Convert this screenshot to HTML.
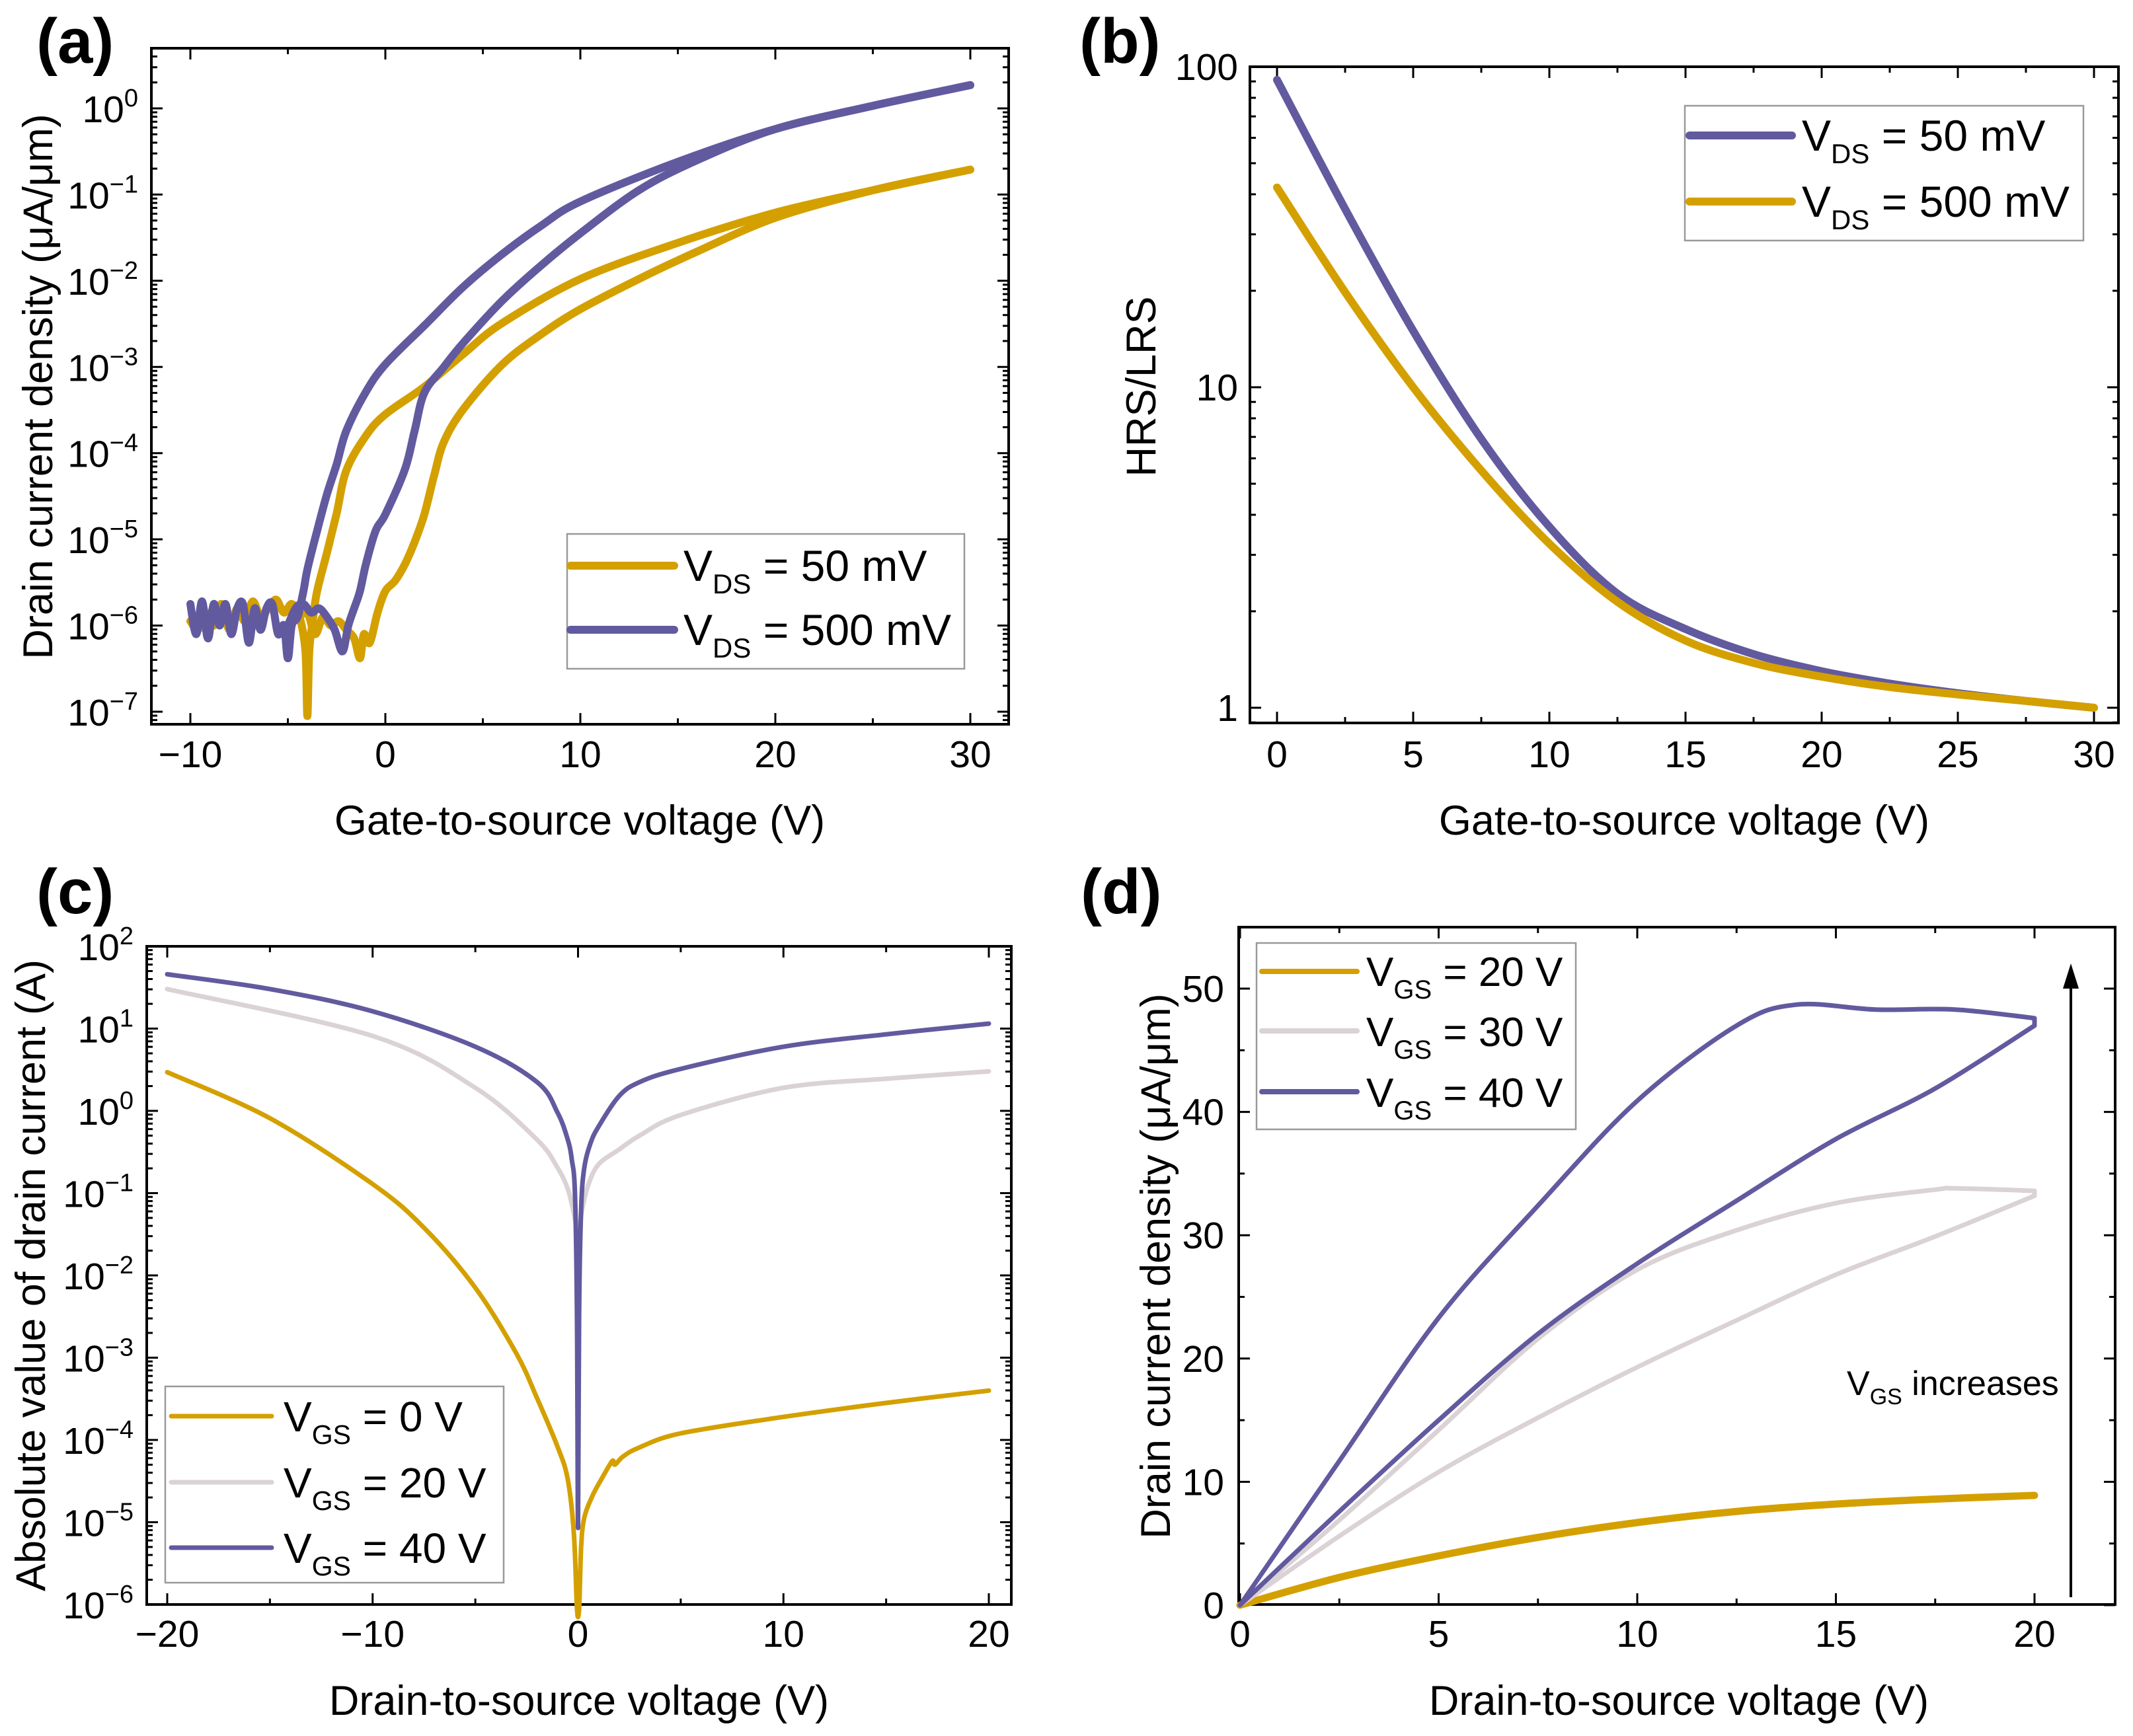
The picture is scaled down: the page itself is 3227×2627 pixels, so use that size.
<!DOCTYPE html>
<html><head><meta charset="utf-8">
<style>
html,body{margin:0;padding:0;background:#fff;}
svg{display:block;font-family:"Liberation Sans",Arial,sans-serif;}
</style></head>
<body>
<svg id="fig" width="3227" height="2627" viewBox="0 0 3227 2627" xmlns="http://www.w3.org/2000/svg"></svg>
<script>
// ---------- Panel (a) data: transfer curves, log10 of current density ----------
const aGold1X = [-10,-9.6,-9.2,-8.8,-8.4,-8,-7.6,-7.2,-6.8,-6.4,-6,-5.6,-5.2,-4.8,-4.4,-4.1,-4.0,-3.9,-3.7,-3.5,-3,-2.5,-2,-1,0,2,4,6,10,15,20,25,30];
const aGold1LogY = [-5.95,-6.05,-5.85,-6.0,-5.75,-6.05,-5.8,-5.95,-5.72,-5.9,-5.8,-5.7,-5.85,-5.75,-5.9,-6.3,-7.05,-6.3,-5.9,-5.6,-5.16,-4.7,-4.2,-3.8,-3.55,-3.23,-2.85,-2.49,-1.98,-1.56,-1.21,-0.95,-0.71];
const aGold2X = [-4.4,-4,-3.6,-3.2,-2.8,-2.4,-2,-1.6,-1.3,-1.1,-0.8,-0.4,0,0.5,1,1.5,2,2.5,3,4,6,8,10,13,16,20,25,30];
const aGold2LogY = [-5.9,-5.85,-6.1,-5.9,-6.0,-5.95,-6.05,-6.15,-6.38,-6.1,-6.2,-5.85,-5.6,-5.48,-5.29,-5.03,-4.71,-4.26,-3.87,-3.49,-2.97,-2.62,-2.33,-1.98,-1.66,-1.27,-0.95,-0.71];
const aPurp1X = [-10,-9.7,-9.4,-9.1,-8.8,-8.5,-8.2,-7.9,-7.6,-7.3,-7,-6.7,-6.4,-6.1,-5.8,-5.5,-5.2,-5.0,-4.8,-4.5,-4.2,-4,-3.5,-3,-2.5,-2,-1,0,2,4,6,8,10,15,20,25,30];
const aPurp1LogY = [-5.75,-6.1,-5.72,-6.15,-5.75,-6.0,-5.75,-6.1,-5.8,-5.75,-6.2,-5.8,-6.05,-5.8,-5.75,-6.1,-6.0,-6.38,-6.0,-5.9,-5.6,-5.35,-4.9,-4.48,-4.13,-3.74,-3.29,-2.97,-2.52,-2.07,-1.69,-1.36,-1.08,-0.62,-0.24,0.03,0.27];
const aPurp2X = [-5,-4.6,-4.2,-3.8,-3.4,-3,-2.6,-2.2,-1.9,-1.6,-1.3,-1,-0.5,0,1,1.5,2,3,4,6,8,10,13,16,20,25,30];
const aPurp2LogY = [-6.0,-5.8,-5.75,-5.85,-5.8,-5.9,-6.05,-6.3,-6.0,-5.8,-5.6,-5.29,-4.9,-4.71,-4.19,-3.74,-3.3,-3.0,-2.72,-2.23,-1.82,-1.45,-0.95,-0.6,-0.24,0.03,0.27];
const aXTicks = [-10,0,10,20,30];
const aYTicksExp = [-7,-6,-5,-4,-3,-2,-1,0];

// ---------- Panel (b) data ----------
const bX = [0,2.5,5,7.5,10,12.5,15,17.5,20,22.5,25,27.5,30];
const bPurple50 = [91,36,15,6.9,3.67,2.27,1.76,1.47,1.30,1.19,1.11,1.05,1.0];
const bGold500 = [42,19.8,10,5.5,3.25,2.14,1.62,1.38,1.25,1.16,1.10,1.05,1.0];
const bXTicks = [0,5,10,15,20,25,30];
const bYTicks = [1,10,100];

// ---------- Panel (c) data: log10 |I_D| ----------
const cPurpX = [-20,-15,-10,-5,-2,-1,-0.5,-0.3,-0.15,-0.05,0,0.05,0.15,0.3,0.6,1,2,3,5,10,15,20];
const cPurpLogY = [1.66,1.48,1.21,0.78,0.35,-0.02,-0.35,-0.6,-1.0,-2.5,-5.07,-2.5,-1.2,-0.7,-0.4,-0.19,0.18,0.35,0.51,0.78,0.93,1.06];
const cGrayX = [-20,-10,-5,-2,-1,-0.5,-0.2,0,0.2,0.5,1,2,3,5,10,15,20];
const cGrayLogY = [1.48,0.91,0.28,-0.35,-0.69,-0.95,-1.25,-1.49,-1.2,-0.9,-0.65,-0.47,-0.3,-0.05,0.28,0.39,0.48];
const cGoldX = [-20,-15,-10,-7.5,-5,-3,-2,-1,-0.5,-0.2,-0.05,0.05,0.15,0.3,0.7,1.2,1.5,1.7,1.8,2.2,3,5,10,15,20];
const cGoldLogY = [0.47,-0.09,-0.89,-1.42,-2.15,-2.95,-3.49,-4.08,-4.48,-5.15,-6.05,-6.05,-5.3,-4.95,-4.68,-4.45,-4.32,-4.25,-4.3,-4.2,-4.09,-3.92,-3.72,-3.55,-3.40];
const cXTicks = [-20,-10,0,10,20];
const cYTicksExp = [-6,-5,-4,-3,-2,-1,0,1,2];

// ---------- Panel (d) data: output loops ----------
const dPurpX = [0,2.5,5,7.5,10,12.5,14,16,18,20,20,17.5,15,12.5,10,7.5,5,2.5,0];
const dPurpY = [0,11.7,23.3,32.4,40.9,47,48.7,48.3,48.3,47.6,47,41.9,37.8,32.8,27.7,22,15,7.6,0];
const dGrayX = [0,2.5,5,7.5,10,12.5,15,17.5,18,20,20,17.5,15,12.5,10,7.5,5,2.5,0];
const dGrayY = [0,6.9,14.2,21.6,27.2,30.4,32.6,33.7,33.8,33.6,33.2,29.9,26.8,23.1,19.3,15.2,10.8,5.6,0];
const dGoldX = [0,2.5,5,7.5,10,12.5,15,17.5,20];
const dGoldY = [0,2.25,4.0,5.5,6.7,7.6,8.2,8.6,8.9];
const dXTicks = [0,5,10,15,20];
const dYTicks = [0,10,20,30,40,50];

const NS = "http://www.w3.org/2000/svg";
const svg = document.getElementById('fig');
const GOLD = "#D4A000", PURP = "#625A9F", GRAY = "#DAD2D5";

function mk(tag, parent){ const e = document.createElementNS(NS, tag); parent.appendChild(e); return e; }
function attrs(e, o){ for (const k in o) e.setAttribute(k, o[k]); return e; }
function lin(d0,d1,p0,p1){ return v => p0 + (v-d0)*(p1-p0)/(d1-d0); }
function logS(e0,e1,p0,p1){ const f = lin(e0,e1,p0,p1); return v => f(Math.log10(v)); }

function smoothSeg(pts, start){
  let d = (start ? "M" : "L") + pts[0][0].toFixed(1) + "," + pts[0][1].toFixed(1);
  for (let i=0;i<pts.length-1;i++){
    const p0 = pts[Math.max(0,i-1)], p1 = pts[i], p2 = pts[i+1], p3 = pts[Math.min(pts.length-1,i+2)];
    const c1x = p1[0]+(p2[0]-p0[0])/6, c1y = p1[1]+(p2[1]-p0[1])/6;
    const c2x = p2[0]-(p3[0]-p1[0])/6, c2y = p2[1]-(p3[1]-p1[1])/6;
    d += "C"+c1x.toFixed(1)+","+c1y.toFixed(1)+" "+c2x.toFixed(1)+","+c2y.toFixed(1)+" "+p2[0].toFixed(1)+","+p2[1].toFixed(1);
  }
  return d;
}
function smoothPath(pts, xs){
  const segs = []; let cur = [pts[0]];
  for (let i=1;i<pts.length;i++){
    if (xs[i] === xs[i-1]) { segs.push(cur); cur = [pts[i]]; }
    else cur.push(pts[i]);
  }
  segs.push(cur);
  return segs.map((s,i)=> s.length>1 ? smoothSeg(s, i===0) : (i===0?"M":"L")+s[0][0]+","+s[0][1]).join(" ");
}
function series(g, xs, ys, sx, sy, color, w, name){
  const pts = xs.map((x,i)=>[sx(x), sy(ys[i])]);
  const p = mk('path', g);
  attrs(p, {d: smoothPath(pts, xs), fill:"none", stroke:color, "stroke-width":w, "stroke-linecap":"round", "stroke-linejoin":"round"});
  
  
  return p;
}
function line(g, x1,y1,x2,y2, w, color){
  const l = mk('line', g);
  attrs(l, {x1, y1, x2, y2, stroke: color||"#000", "stroke-width": w});
  return l;
}
function text(g, x, y, str, size, anchor, weight){
  const t = mk('text', g);
  attrs(t, {x, y, "font-size": size, "text-anchor": anchor||"start", fill:"#000"});
  if (weight) t.setAttribute('font-weight', weight);
  t.textContent = str;
  return t;
}
function supText(g, x, y, base, sup, anchor){
  const t = mk('text', g);
  attrs(t, {x, y, "font-size": 57, "text-anchor": anchor, fill:"#000"});
  const a = mk('tspan', t); a.textContent = base;
  const b = mk('tspan', t); attrs(b, {"font-size": 38, dy: -24}); b.textContent = sup;
  return t;
}
function subText(g, x, y, main, sub, rest, size){
  const t = mk('text', g);
  attrs(t, {x, y, "font-size": size, fill:"#000"});
  const a = mk('tspan', t); a.textContent = main;
  const b = mk('tspan', t); attrs(b, {"font-size": Math.round(size*0.64), dy: 19}); b.textContent = sub;
  const c = mk('tspan', t); attrs(c, {dy: -19}); c.textContent = rest;
  return t;
}
function frame(g, L, R, T, B){
  const r = mk('rect', g);
  attrs(r, {x:L, y:T, width:R-L, height:B-T, fill:"none", stroke:"#000", "stroke-width":4});
  
  
}
function xTicks(g, P, sx, majors, minors){
  majors.forEach(v=>{ const x=sx(v); line(g,x,P.B,x,P.B-17,3); line(g,x,P.T,x,P.T+17,3); });
  minors.forEach(v=>{ const x=sx(v); line(g,x,P.B,x,P.B-9,3); line(g,x,P.T,x,P.T+9,3); });
}
function yTicksLin(g, P, sy, majors, minors){
  majors.forEach(v=>{ const y=sy(v); line(g,P.L,y,P.L+17,y,3); line(g,P.R,y,P.R-17,y,3); });
  minors.forEach(v=>{ const y=sy(v); line(g,P.L,y,P.L+9,y,3); line(g,P.R,y,P.R-9,y,3); });
}
function yTicksLog(g, P, sy, e0, e1){
  for (let e=e0; e<=e1; e++){
    for (let k=1;k<=9;k++){
      const v = k*Math.pow(10,e); const y = sy(v);
      if (y < P.T-1 || y > P.B+1) continue;
      const len = k===1?17:9;
      line(g,P.L,y,P.L+len,y,3); line(g,P.R,y,P.R-len,y,3);
    }
  }
}
function legendBox(g, x, y, w, h){
  const r = mk('rect', g);
  attrs(r, {x, y, width:w, height:h, fill:"#fff", stroke:"#999", "stroke-width":2.5});
  
  
}
function minus(v){ return String(v).replace('-', '\u2212'); }

// ================= Panel (a) =================
{
  const P = {L:229, R:1526, T:73, B:1096};
  const g = mk('g', svg);
  
  
  const sx = lin(-10,30,288,1468);
  const syL = lin(0,-7,164,1077);
  const sy = v => syL(v);
  text(g, 55, 95, "(a)", 96, "start", "bold");
  frame(g,P.L,P.R,P.T,P.B);
  xTicks(g,P,sx,aXTicks,[-5,5,15,25]);
  const syv = logS(0,-7,164,1077);
  yTicksLog(g,P,syv,-8,0);
  aXTicks.forEach(v=>{ const t=text(g,sx(v),1161,minus(v),57,"middle");  });
  aYTicksExp.forEach(e=>{ const t=supText(g,P.L-20,sy(e)+21,"10",minus(e),"end");  });
  const xt = text(g,877,1263,"Gate-to-source voltage (V)",63,"middle");
  
  const yt = text(g,0,0,"Drain current density (\u03bcA/\u03bcm)",63,"middle");
  yt.setAttribute('transform','translate(79,585) rotate(-90)');
  
  series(g,aGold1X,aGold1LogY,sx,sy,GOLD,12,'series-50mv-forward');
  series(g,aGold2X,aGold2LogY,sx,sy,GOLD,12,'series-50mv-reverse');
  series(g,aPurp1X,aPurp1LogY,sx,sy,PURP,12,'series-500mv-forward');
  series(g,aPurp2X,aPurp2LogY,sx,sy,PURP,12,'series-500mv-reverse');
  const lg = mk('g', g);
  
  
  legendBox(lg,858,808,601,204);
  line(lg,863,856,1020,856,12,GOLD).setAttribute('stroke-linecap','round');
  line(lg,863,953,1020,953,12,PURP).setAttribute('stroke-linecap','round');
  subText(lg,1034,879,"V","DS"," = 50 mV",66);
  subText(lg,1034,976,"V","DS"," = 500 mV",66);
}

// ================= Panel (b) =================
{
  const P = {L:1891, R:3205, T:101, B:1094};
  const g = mk('g', svg);
  
  
  const sx = lin(0,30,1932,3168);
  const sy = logS(2,0,101,1071);
  text(g, 1633, 95, "(b)", 96, "start", "bold");
  frame(g,P.L,P.R,P.T,P.B);
  xTicks(g,P,sx,bXTicks,[2.5,7.5,12.5,17.5,22.5,27.5]);
  yTicksLog(g,P,sy,-1,1);
  bXTicks.forEach(v=>{ const t=text(g,sx(v),1161,String(v),57,"middle");  });
  bYTicks.forEach(v=>{ const t=text(g,P.L-18,sy(v)+20,String(v),57,"end");  });
  const xt = text(g,2548,1263,"Gate-to-source voltage (V)",63,"middle");
  
  const yt = text(g,0,0,"HRS/LRS",63,"middle");
  yt.setAttribute('transform','translate(1748,585) rotate(-90)');
  
  series(g,bX,bPurple50,sx,sy,PURP,12,'series-50mv');
  series(g,bX,bGold500,sx,sy,GOLD,12,'series-500mv');
  const lg = mk('g', g);
  
  
  legendBox(lg,2549,160,603,204);
  line(lg,2556,205,2711,205,12,PURP).setAttribute('stroke-linecap','round');
  line(lg,2556,305,2711,305,12,GOLD).setAttribute('stroke-linecap','round');
  subText(lg,2726,228,"V","DS"," = 50 mV",66);
  subText(lg,2726,328,"V","DS"," = 500 mV",66);
}

// ================= Panel (c) =================
{
  const P = {L:222, R:1530, T:1432, B:2428};
  const g = mk('g', svg);
  
  
  const sx = lin(-20,20,253,1496);
  const sy = lin(2,-6,1432,2428);
  const syv = logS(2,-6,1432,2428);
  text(g, 55, 1382, "(c)", 96, "start", "bold");
  frame(g,P.L,P.R,P.T,P.B);
  xTicks(g,P,sx,cXTicks,[-15,-5,5,15]);
  yTicksLog(g,P,syv,-6,1);
  cXTicks.forEach(v=>{ const t=text(g,sx(v),2492,minus(v),57,"middle");  });
  cYTicksExp.forEach(e=>{ const t=supText(g,P.L-20,sy(e)+21,"10",minus(e),"end");  });
  const xt = text(g,876,2595,"Drain-to-source voltage (V)",63,"middle");
  
  const yt = text(g,0,0,"Absolute value of drain current (A)",63,"middle");
  yt.setAttribute('transform','translate(68,1930) rotate(-90)');
  
  series(g,cGoldX,cGoldLogY,sx,sy,GOLD,7,'series-vgs-0v');
  series(g,cGrayX,cGrayLogY,sx,sy,GRAY,7,'series-vgs-20v');
  series(g,cPurpX,cPurpLogY,sx,sy,PURP,7,'series-vgs-40v');
  const lg = mk('g', g);
  
  
  legendBox(lg,250,2098,512,297);
  line(lg,259,2143,411,2143,7,GOLD).setAttribute('stroke-linecap','round');
  line(lg,259,2243,411,2243,7,GRAY).setAttribute('stroke-linecap','round');
  line(lg,259,2342,411,2342,7,PURP).setAttribute('stroke-linecap','round');
  subText(lg,429,2166,"V","GS"," = 0 V",64);
  subText(lg,429,2266,"V","GS"," = 20 V",64);
  subText(lg,429,2365,"V","GS"," = 40 V",64);
}

// ================= Panel (d) =================
{
  const P = {L:1874, R:3200, T:1403, B:2428};
  const g = mk('g', svg);
  
  
  const sx = lin(0,20,1876,3078);
  const sy = lin(0,50,2429,1496);
  text(g, 1635, 1382, "(d)", 96, "start", "bold");
  frame(g,P.L,P.R,P.T,P.B);
  xTicks(g,P,sx,dXTicks,[2.5,7.5,12.5,17.5]);
  yTicksLin(g,P,sy,dYTicks,[5,15,25,35,45,55].filter(v=>sy(v)>=P.T));
  dXTicks.forEach(v=>{ const t=text(g,sx(v),2492,String(v),57,"middle");  });
  dYTicks.forEach(v=>{ const t=text(g,P.L-22,sy(v)+20,String(v),57,"end");  });
  const xt = text(g,2540,2595,"Drain-to-source voltage (V)",63,"middle");
  
  const yt = text(g,0,0,"Drain current density (\u03bcA/\u03bcm)",63,"middle");
  yt.setAttribute('transform','translate(1770,1916) rotate(-90)');
  
  series(g,dGoldX,dGoldY,sx,sy,GOLD,11,'series-vgs-20v');
  series(g,dGrayX,dGrayY,sx,sy,GRAY,7,'series-vgs-30v');
  series(g,dPurpX,dPurpY,sx,sy,PURP,7,'series-vgs-40v');
  const ar = mk('g', g);
  
  
  line(ar,3133,2417,3133,1490,4);
  const hd = mk('path', ar);
  attrs(hd, {d:"M3133,1458 L3121,1496 L3145,1496 Z", fill:"#000"});
  const at = mk('text', g);
  attrs(at, {x:2794, y:2111, "font-size":52, fill:"#000"});
  
  
  const a1 = mk('tspan', at); a1.textContent = "V";
  const a2 = mk('tspan', at); attrs(a2, {"font-size":34, dy:14}); a2.textContent = "GS";
  const a3 = mk('tspan', at); attrs(a3, {dy:-14}); a3.textContent = " increases";
  const lg = mk('g', g);
  
  
  legendBox(lg,1901,1427,483,282);
  line(lg,1909,1470,2053,1470,8,GOLD).setAttribute('stroke-linecap','round');
  line(lg,1909,1560,2053,1560,8,GRAY).setAttribute('stroke-linecap','round');
  line(lg,1909,1652,2053,1652,8,PURP).setAttribute('stroke-linecap','round');
  subText(lg,2067,1492,"V","GS"," = 20 V",62);
  subText(lg,2067,1583,"V","GS"," = 30 V",62);
  subText(lg,2067,1675,"V","GS"," = 40 V",62);
}
</script>
</body></html>
